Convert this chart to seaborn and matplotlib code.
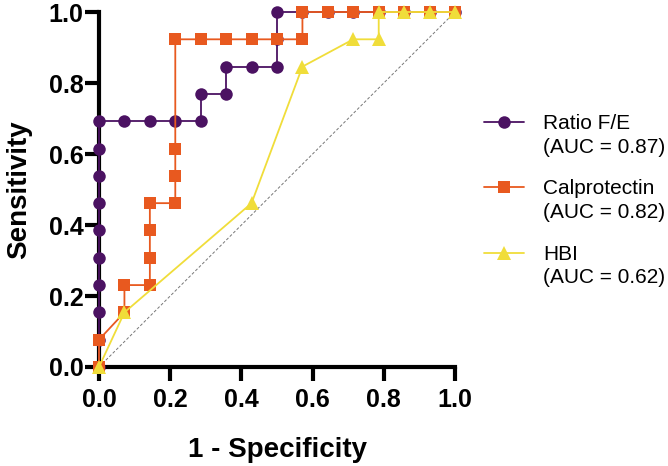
import numpy as np
import pandas as pd
import matplotlib
matplotlib.use('Agg')
import matplotlib.pyplot as plt
from matplotlib.legend_handler import HandlerLine2D
import seaborn as sns

# ROC points (1 - specificity, sensitivity), 14 negatives / 13 positives
n_neg, n_pos = 14, 13
ratio_fp = [0, 0, 0, 0, 0, 0, 0, 0, 0, 0, 1, 2, 3, 4, 4, 5, 5, 6, 7, 7, 7, 8, 9, 10, 11, 12, 13, 14]
ratio_tp = [0, 1, 2, 3, 4, 5, 6, 7, 8, 9, 9, 9, 9, 9, 10, 10, 11, 11, 11, 12, 13, 13, 13, 13, 13, 13, 13, 13]
calp_fp = [0, 0, 1, 1, 2, 2, 2, 2, 3, 3, 3, 3, 4, 5, 6, 7, 8, 8, 9, 10, 11, 12, 13, 14]
calp_tp = [0, 1, 2, 3, 3, 4, 5, 6, 6, 7, 8, 12, 12, 12, 12, 12, 12, 13, 13, 13, 13, 13, 13, 13]
hbi_fp = [0, 1, 6, 8, 10, 11, 11, 12, 13, 14]
hbi_tp = [0, 2, 6, 11, 12, 12, 13, 13, 13, 13]

labels = ['Ratio F/E\n(AUC = 0.87)', 'Calprotectin\n(AUC = 0.82)', 'HBI\n(AUC = 0.62)']
colors = ['#4B1262', '#E8591F', '#F0DD3A']
markers = ['o', 's', '^']

sns.set_style('ticks')
plt.rcParams['font.family'] = ['Liberation Sans', 'DejaVu Sans']
plt.rcParams['text.color'] = 'black'
plt.rcParams['axes.labelcolor'] = 'black'
plt.rcParams['xtick.color'] = 'black'
plt.rcParams['ytick.color'] = 'black'

LINESPACING = 1.3


class FirstLineHandler(HandlerLine2D):
    # put the legend marker next to the first line of a two-line label
    def create_artists(self, legend, orig_handle, xdescent, ydescent,
                       width, height, fontsize, trans):
        return super().create_artists(legend, orig_handle, xdescent,
                                      ydescent - LINESPACING * fontsize, width,
                                      height, fontsize, trans)


fig = plt.figure(figsize=(6.68, 4.66), dpi=100)
ax = fig.add_axes([99 / 668, 99 / 466, 356 / 668, 355 / 466])

ax.plot([0, 1], [0, 1], ls=(0, (3, 2)), color='#777777', lw=0.7, zorder=1)

series = [(ratio_fp, ratio_tp), (calp_fp, calp_tp), (hbi_fp, hbi_tp)]
for (fp, tp), lab, c, m in zip(series, labels, colors, markers):
    df = pd.DataFrame({'x': np.array(fp) / n_neg, 'y': np.array(tp) / n_pos})
    sns.lineplot(data=df, x='x', y='y', estimator=None, sort=False, ax=ax,
                 color=c, marker=m, markersize=9 if m != '^' else 10,
                 markeredgewidth=0, lw=1.3, label=lab, clip_on=False, zorder=3)

ax.set_xlim(0, 1)
ax.set_ylim(0, 1)
ticks = [0.0, 0.2, 0.4, 0.6, 0.8, 1.0]
ax.set_xticks(ticks)
ax.set_yticks(ticks)
ax.set_xticklabels([f'{t:.1f}' for t in ticks], fontsize=18, fontweight='bold')
ax.set_yticklabels([f'{t:.1f}' for t in ticks], fontsize=18, fontweight='bold')
ax.tick_params(axis='x', width=3, length=10, color='black', pad=5)
ax.tick_params(axis='y', width=3, length=10, color='black', pad=1)
for s in ['left', 'bottom']:
    ax.spines[s].set_linewidth(3)
    ax.spines[s].set_color('black')
sns.despine(ax=ax)

ax.set_xlabel('1 - Specificity', fontsize=20, fontweight='bold', labelpad=18)
ax.set_ylabel('Sensitivity', fontsize=20, fontweight='bold', labelpad=12)

handles, _ = ax.get_legend_handles_labels()
leg = ax.legend(handles, labels, loc='upper left', bbox_to_anchor=(1.03, 0.765),
                frameon=False, fontsize=15, handlelength=1.9, handletextpad=0.9,
                labelspacing=1.09,
                handler_map={h: FirstLineHandler() for h in handles})
for t in leg.get_texts():
    t.set_linespacing(LINESPACING)

fig.savefig('out.png', dpi=100)
